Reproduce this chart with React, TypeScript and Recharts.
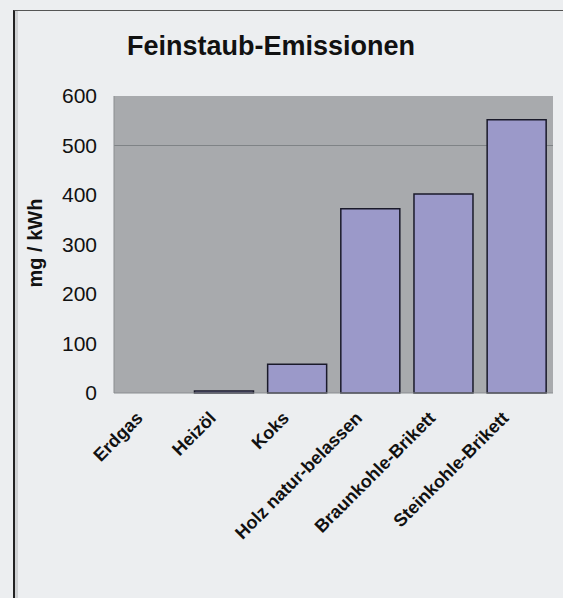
import { BarChart, Bar, XAxis, YAxis, CartesianGrid } from 'recharts'

// Feinstaub-Emissionen je Brennstoff (mg / kWh)
const fuels = ['Erdgas', 'Heizöl', 'Koks', 'Holz natur-belassen', 'Braunkohle-Brikett', 'Steinkohle-Brikett']
const emissions = [0, 4, 58, 372, 402, 552]
const yTicks = [0, 100, 200, 300, 400, 500, 600]

const data = fuels.map((name, i) => ({ name, v: emissions[i] }))

const FONT = 'Arial, "Liberation Sans", Helvetica, sans-serif'

function FuelTick(props: any) {
  const { x, y, payload } = props
  return (
    <g transform={`translate(${x - 11},${y + 22})`}>
      <text
        transform="rotate(-45)"
        textAnchor="end"
        dominantBaseline="central"
        fontFamily={FONT}
        fontWeight={700}
        fontSize={18}
        fill="#111"
      >
        {payload.value}
      </text>
    </g>
  )
}

export default function App() {
  return (
    <div style={{ position: 'absolute', left: 0, top: 0, width: 563, height: 598, background: '#eceef0', fontFamily: FONT, overflow: 'hidden' }}>
      <div style={{ position: 'absolute', left: 13, top: 10, width: 560, height: 600, borderLeft: '2px solid #222', borderTop: '1px solid #555', boxShadow: 'inset 3px 0 0 #cfd1d3' }} />
      <div style={{ position: 'absolute', left: 271, top: 31, transform: 'translateX(-50%)', fontSize: 27, fontWeight: 700, color: '#111', whiteSpace: 'nowrap' }}>
        Feinstaub-Emissionen
      </div>
      <div style={{ position: 'absolute', left: 35, top: 243, transform: 'translate(-50%, -50%) rotate(-90deg)', fontSize: 20, fontWeight: 700, color: '#111', whiteSpace: 'nowrap' }}>
        mg / kWh
      </div>
      <div style={{ position: 'absolute', left: 0, top: 0 }}>
        <BarChart width={563} height={598} data={data} margin={{ top: 96, right: 10, bottom: 55, left: 54 }} barCategoryGap="10%">
          <CartesianGrid fill="#a8aaad" vertical={false} horizontalValues={[500]} stroke="#7f8386" strokeWidth={1} />
          <XAxis dataKey="name" height={150} interval={0} tickLine={false} tickSize={0} tickMargin={0} axisLine={{ stroke: '#8a8d90' }} tick={<FuelTick />} />
          <YAxis
            width={60}
            domain={[0, 600]}
            ticks={yTicks}
            interval={0}
            tickLine={false}
            tickSize={0}
            axisLine={{ stroke: '#8a8d90' }}
            tickMargin={17}
            tick={{ fontSize: 21, fill: '#111', fontFamily: FONT }}
          />
          <Bar dataKey="v" fill="#9b99c9" stroke="#1a1a2a" strokeWidth={1.5} isAnimationActive={false} />
        </BarChart>
      </div>
    </div>
  )
}
